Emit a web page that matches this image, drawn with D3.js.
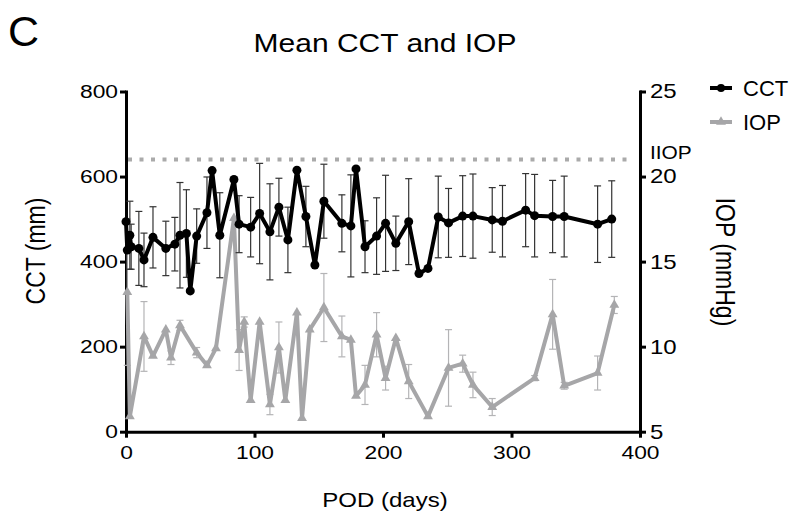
<!DOCTYPE html>
<html>
<head>
<meta charset="utf-8">
<script src="https://cdn.jsdelivr.net/npm/d3@7"></script>
<style>
  html, body { margin: 0; padding: 0; background: #fff; }
  svg { display: block; font-family: "Liberation Sans", Arial, sans-serif; }
</style>
</head>
<body>
<svg id="chart" width="800" height="527"></svg>
<script>
/* Mean CCT and IOP over post-op days */

const cctDays = [0, 1, 3, 4, 10, 14, 21, 31, 38, 42, 47, 50, 55, 63, 67, 73, 84, 88, 97, 104,
  112, 119, 126, 133, 140, 147, 154, 168, 175, 179, 186, 195, 202, 210, 220, 228, 235, 243,
  251, 262, 270, 285, 293, 311, 318, 332, 341, 367, 378];
const cctMean = [494, 427, 462, 435, 431, 404, 457, 431, 441, 462, 466, 331, 460, 515, 614, 462,
  593, 488, 481, 513, 470, 528, 451, 615, 506, 392, 542, 490, 484, 618, 435, 460, 490, 443, 494,
  372, 384, 505, 491, 507, 507, 498, 495, 521, 508, 506, 506, 488, 500];
const cctSD = [0, 0, 80, 53, 87, 63, 72, 64, 63, 124, 103, 0, 64, 84, 0, 100, 0, 67, 70, 118,
  113, 68, 77, 0, 71, 0, 87, 67, 120, 0, 61, 90, 113, 64, 101, 0, 0, 96, 81, 95, 99, 76, 84,
  86, 97, 85, 95, 90, 90];

const iopDays = [1, 3, 14, 21, 31, 35, 42, 55, 63, 70, 84, 88, 92, 97, 104, 112, 119, 124, 133,
  137, 143, 154, 168, 175, 179, 186, 195, 202, 210, 220, 235, 251, 262, 270, 285, 318, 332, 341,
  367, 380];
const iopMean = [13.2, 5.9, 10.6, 9.45, 11.0, 9.35, 11.25, 9.65, 8.9, 9.9, 17.55, 9.8, 11.45,
  6.85, 11.45, 6.6, 9.95, 6.85, 12.0, 5.8, 11.0, 12.3, 10.6, 10.4, 7.1, 7.75, 10.7, 8.15, 10.5,
  7.95, 5.9, 8.75, 9.0, 7.75, 6.45, 8.15, 11.9, 7.7, 8.45, 12.45];
const iopSD = [4.3, 0, 2.05, 0, 0, 0.4, 0.3, 0.3, 0, 0, 0, 1.2, 0.3, 0, 0, 0.6, 1.5, 0, 0, 0,
  0, 2.0, 1.2, 0, 0, 1.15, 1.3, 0.7, 0, 1.0, 0, 2.25, 0.5, 0.75, 0.5, 0.15, 2.05, 0.2, 1.0, 0.5];

const iiopLevel = 21;

const xTicks = [0, 100, 200, 300, 400];
const cctTicks = [0, 200, 400, 600, 800];
const iopTicks = [5, 10, 15, 20, 25];

const svg = d3.select('#chart');
const FONT = '"Liberation Sans", Arial, sans-serif';
const STRETCH = 1.2;   // reference text is a bit wide

const x = d3.scaleLinear().domain([0, 400]).range([126, 640]);
const yL = d3.scaleLinear().domain([0, 800]).range([431.7, 91.5]);
const yR = d3.scaleLinear().domain([5, 25]).range([431.7, 91.5]);

const CCT_COLOR = '#000';
const IOP_COLOR = '#a6a6a8';

// plain text helper, stretched horizontally like the reference
function label(tx, ty, str, size, opts = {}) {
  const rot = opts.rotate ? ` rotate(${opts.rotate})` : '';
  const k = opts.k == null ? STRETCH : opts.k;
  return svg.append('text')
    .attr('transform', `translate(${tx},${ty}) scale(${k},1)${rot}`)
    .attr('text-anchor', opts.anchor || 'start')
    .attr('font-size', size)
    .attr('font-family', FONT)
    .attr('fill', '#000')
    .text(str);
}

/* ---------- axes ---------- */
function styleAxis(g) {
  g.attr('font-family', null).attr('font-size', null);
  g.select('.domain').attr('stroke-width', 3).attr('stroke-linecap', 'square');
  g.selectAll('.tick line').attr('stroke-width', 3);
}

const gL = svg.append('g')
  .attr('transform', `translate(${x(0)},0)`)
  .call(d3.axisLeft(yL).tickValues(cctTicks).tickSize(6).tickSizeOuter(0))
  .call(styleAxis);
gL.selectAll('.tick text')
  .attr('x', null)
  .attr('transform', `translate(-8,0) scale(${STRETCH},1)`)
  .attr('font-size', 19)
  .attr('font-family', FONT);

const gR = svg.append('g')
  .attr('transform', `translate(${x(400)},0)`)
  .call(d3.axisRight(yR).tickValues(iopTicks).tickSize(6).tickSizeOuter(0))
  .call(styleAxis);
gR.selectAll('.tick text')
  .attr('x', null)
  .attr('transform', `translate(10,0) scale(${STRETCH},1)`)
  .attr('font-size', 20)
  .attr('font-family', FONT);

const gB = svg.append('g')
  .attr('transform', `translate(0,${yL(0)})`)
  .call(d3.axisBottom(x).tickValues(xTicks).tickSize(6).tickSizeOuter(0))
  .call(styleAxis);
gB.selectAll('.tick text')
  .attr('y', null).attr('dy', null)
  .attr('transform', `translate(0,27) scale(${STRETCH},1)`)
  .attr('font-size', 19)
  .attr('font-family', FONT);

/* ---------- IIOP threshold ---------- */
svg.append('line')
  .attr('x1', x(0) + 2).attr('x2', 630)
  .attr('y1', yR(iiopLevel)).attr('y2', yR(iiopLevel))
  .attr('stroke', '#aaaaaa')
  .attr('stroke-width', 4)
  .attr('stroke-dasharray', '4,7.5');

/* ---------- IOP series (drawn under CCT) ---------- */
const iop = iopDays.map((d, i) => ({ d, m: iopMean[i], s: iopSD[i] }));
const gIop = svg.append('g');

gIop.selectAll('g.eb')
  .data(iop.filter(p => p.s > 0))
  .join('g')
  .attr('class', 'eb')
  .attr('stroke', '#b4b4b6')
  .attr('stroke-width', 1.2)
  .each(function (p) {
    const g = d3.select(this);
    const cx = x(p.d), t = yR(p.m + p.s), b = yR(p.m - p.s);
    g.append('line').attr('x1', cx).attr('x2', cx).attr('y1', t).attr('y2', b);
    g.append('line').attr('x1', cx - 3.5).attr('x2', cx + 3.5).attr('y1', t).attr('y2', t);
    g.append('line').attr('x1', cx - 3.5).attr('x2', cx + 3.5).attr('y1', b).attr('y2', b);
  });

gIop.append('path')
  .datum(iop)
  .attr('d', d3.line().x(p => x(p.d)).y(p => yR(p.m)))
  .attr('fill', 'none')
  .attr('stroke', IOP_COLOR)
  .attr('stroke-width', 4)
  .attr('stroke-linejoin', 'round');

const tri = d3.symbol().type(d3.symbolTriangle).size(42);
gIop.selectAll('path.mk')
  .data(iop)
  .join('path')
  .attr('class', 'mk')
  .attr('d', tri)
  .attr('transform', p => `translate(${x(p.d)},${yR(p.m)})`)
  .attr('fill', IOP_COLOR);

/* ---------- CCT series ---------- */
const cct = cctDays.map((d, i) => ({ d, m: cctMean[i], s: cctSD[i] }));
const gCct = svg.append('g');

gCct.selectAll('g.eb')
  .data(cct.filter(p => p.s > 0))
  .join('g')
  .attr('class', 'eb')
  .attr('stroke', '#333')
  .attr('stroke-width', 1.2)
  .each(function (p) {
    const g = d3.select(this);
    const cx = x(p.d), t = yL(p.m + p.s), b = yL(p.m - p.s);
    g.append('line').attr('x1', cx).attr('x2', cx).attr('y1', t).attr('y2', b);
    g.append('line').attr('x1', cx - 3.5).attr('x2', cx + 3.5).attr('y1', t).attr('y2', t);
    g.append('line').attr('x1', cx - 3.5).attr('x2', cx + 3.5).attr('y1', b).attr('y2', b);
  });

gCct.append('path')
  .datum(cct)
  .attr('d', d3.line().x(p => x(p.d)).y(p => yL(p.m)))
  .attr('fill', 'none')
  .attr('stroke', CCT_COLOR)
  .attr('stroke-width', 4)
  .attr('stroke-linejoin', 'round');

gCct.selectAll('circle')
  .data(cct)
  .join('circle')
  .attr('cx', p => x(p.d))
  .attr('cy', p => yL(p.m))
  .attr('r', 4.5)
  .attr('fill', CCT_COLOR);

/* ---------- labels ---------- */
label(8, 46, 'C', 43, { k: 1 });
label(385, 52, 'Mean CCT and IOP', 25, { anchor: 'middle' });
label(385, 507, 'POD (days)', 20, { anchor: 'middle' });
label(45, 251, 'CCT (mm)', 23, { anchor: 'middle', rotate: -90 });
label(716, 262, 'IOP (mmHg)', 23, { anchor: 'middle', rotate: 90 });
label(650, 159, 'IIOP', 19, { k: 1.1 });

/* ---------- legend ---------- */
const legend = [
  { name: 'CCT', color: CCT_COLOR, y: 88, mark: 'circle' },
  { name: 'IOP', color: IOP_COLOR, y: 122, mark: 'tri' },
];
legend.forEach(l => {
  svg.append('line')
    .attr('x1', 710).attr('x2', 732).attr('y1', l.y).attr('y2', l.y)
    .attr('stroke', l.color).attr('stroke-width', 4);
  if (l.mark === 'circle') {
    svg.append('circle').attr('cx', 721).attr('cy', l.y).attr('r', 4).attr('fill', l.color);
  } else {
    svg.append('path').attr('d', tri).attr('transform', `translate(721,${l.y})`).attr('fill', l.color);
  }
  label(743, l.y + 8, l.name, 22, { k: 1 });
});
</script>
</body>
</html>
